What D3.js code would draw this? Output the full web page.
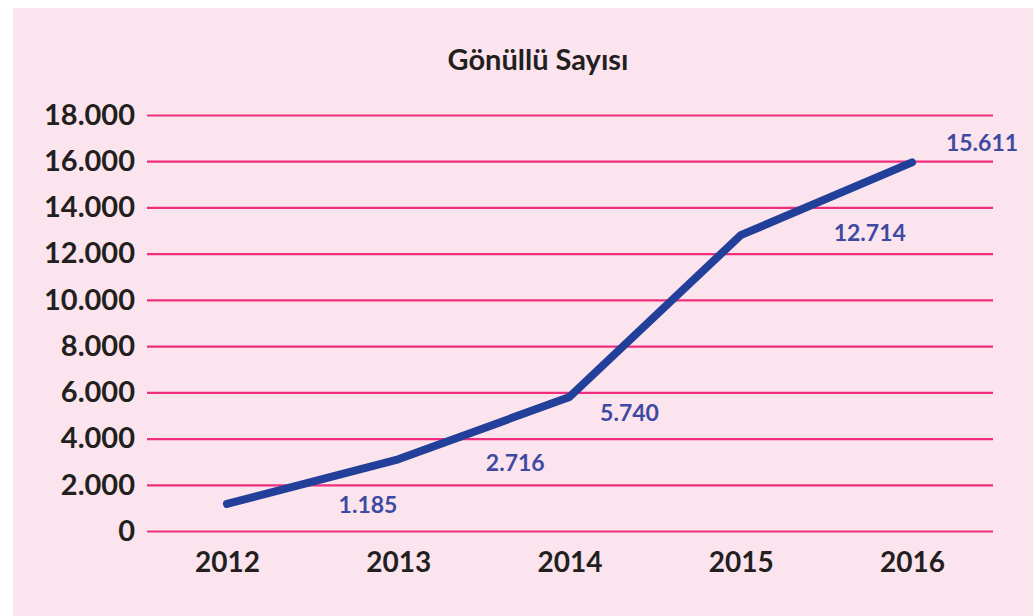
<!DOCTYPE html>
<html>
<head>
<meta charset="utf-8">
<script src="https://cdn.jsdelivr.net/npm/d3@7"></script>
<style>
  html, body { margin: 0; padding: 0; background: #ffffff; }
  svg { display: block; }
  text { font-family: Lato, "Open Sans", sans-serif; }
</style>
</head>
<body>
<svg id="chart"></svg>
<script>
// data
const years = ['2012', '2013', '2014', '2015', '2016'];
const volunteers = [1170, 3100, 5800, 12800, 15950];
const valueLabels = ['1.185', '2.716', '5.740', '12.714', '15.611'];
const yTicks = [0, 2000, 4000, 6000, 8000, 10000, 12000, 14000, 16000, 18000];
const title = 'Gönüllü Sayısı';

const config = {
  width: 1033,
  height: 616,
  plotLeft: 147,
  plotRight: 993,
  yTop: 115,
  yBottom: 531,
  xFirst: 227,
  xLast: 912,
  lineColor: '#22409a',
  labelColor: '#3e4aa2',
  gridColor: '#ef2f7d',
  bg: '#fbe4ee',
  // where each value label sits relative to its point (dx, dy)
  labelOffsets: [[141, 1], [117, 4], [60, 16], [129, -2], [70, -19]],
};

const svg = d3.select('#chart')
  .attr('width', config.width)
  .attr('height', config.height);

// pink panel
svg.append('rect')
  .attr('x', 13)
  .attr('y', 8)
  .attr('width', config.width - 13)
  .attr('height', config.height - 8)
  .attr('fill', config.bg);

const xScale = d3.scalePoint()
  .domain(years)
  .range([config.xFirst, config.xLast]);

const yScale = d3.scaleLinear()
  .domain([0, 18000])
  .range([config.yBottom, config.yTop]);

const fmt = (d) => d3.format(',')(d).replace(/,/g, '.');

// y axis with gridlines
const yAxis = d3.axisLeft(yScale)
  .tickValues(yTicks)
  .tickSize(-(config.plotRight - config.plotLeft))
  .tickPadding(12)
  .tickFormat(fmt);

const yAxisG = svg.append('g')
  .attr('transform', `translate(${config.plotLeft},0)`)
  .call(yAxis)
  .call((g) => g.select('.domain').remove());

yAxisG.selectAll('.tick line')
  .attr('stroke', config.gridColor)
  .attr('stroke-width', 2.2);

yAxisG.selectAll('.tick text')
  .attr('fill', '#231f20')
  .attr('font-size', 29)
  .attr('font-weight', 700)
  .attr('font-family', 'Lato, sans-serif');

// x axis labels only
const xAxis = d3.axisBottom(xScale)
  .tickSize(0)
  .tickPadding(21);

const xAxisG = svg.append('g')
  .attr('transform', `translate(0,${config.yBottom})`)
  .call(xAxis)
  .call((g) => g.select('.domain').remove());

xAxisG.selectAll('.tick text')
  .attr('fill', '#231f20')
  .attr('font-size', 28)
  .attr('font-weight', 700)
  .attr('font-family', 'Lato, sans-serif');

// the line
const line = d3.line()
  .x((d, i) => xScale(years[i]))
  .y((d) => yScale(d));

svg.append('path')
  .datum(volunteers)
  .attr('d', line)
  .attr('fill', 'none')
  .attr('stroke', config.lineColor)
  .attr('stroke-width', 8)
  .attr('stroke-linecap', 'round')
  .attr('stroke-linejoin', 'round');

// value labels
svg.selectAll('.value-label')
  .data(volunteers)
  .join('text')
  .attr('class', 'value-label')
  .attr('x', (d, i) => xScale(years[i]) + config.labelOffsets[i][0])
  .attr('y', (d, i) => yScale(d) + config.labelOffsets[i][1])
  .attr('dy', '0.35em')
  .attr('text-anchor', 'middle')
  .attr('fill', config.labelColor)
  .attr('font-size', 23)
  .attr('font-weight', 700)
  .text((d, i) => valueLabels[i]);

// title
svg.append('text')
  .attr('x', 538)
  .attr('y', 60)
  .attr('dy', '0.35em')
  .attr('text-anchor', 'middle')
  .attr('fill', '#231f20')
  .attr('font-size', 29)
  .attr('font-weight', 700)
  .text(title);
</script>
</body>
</html>
